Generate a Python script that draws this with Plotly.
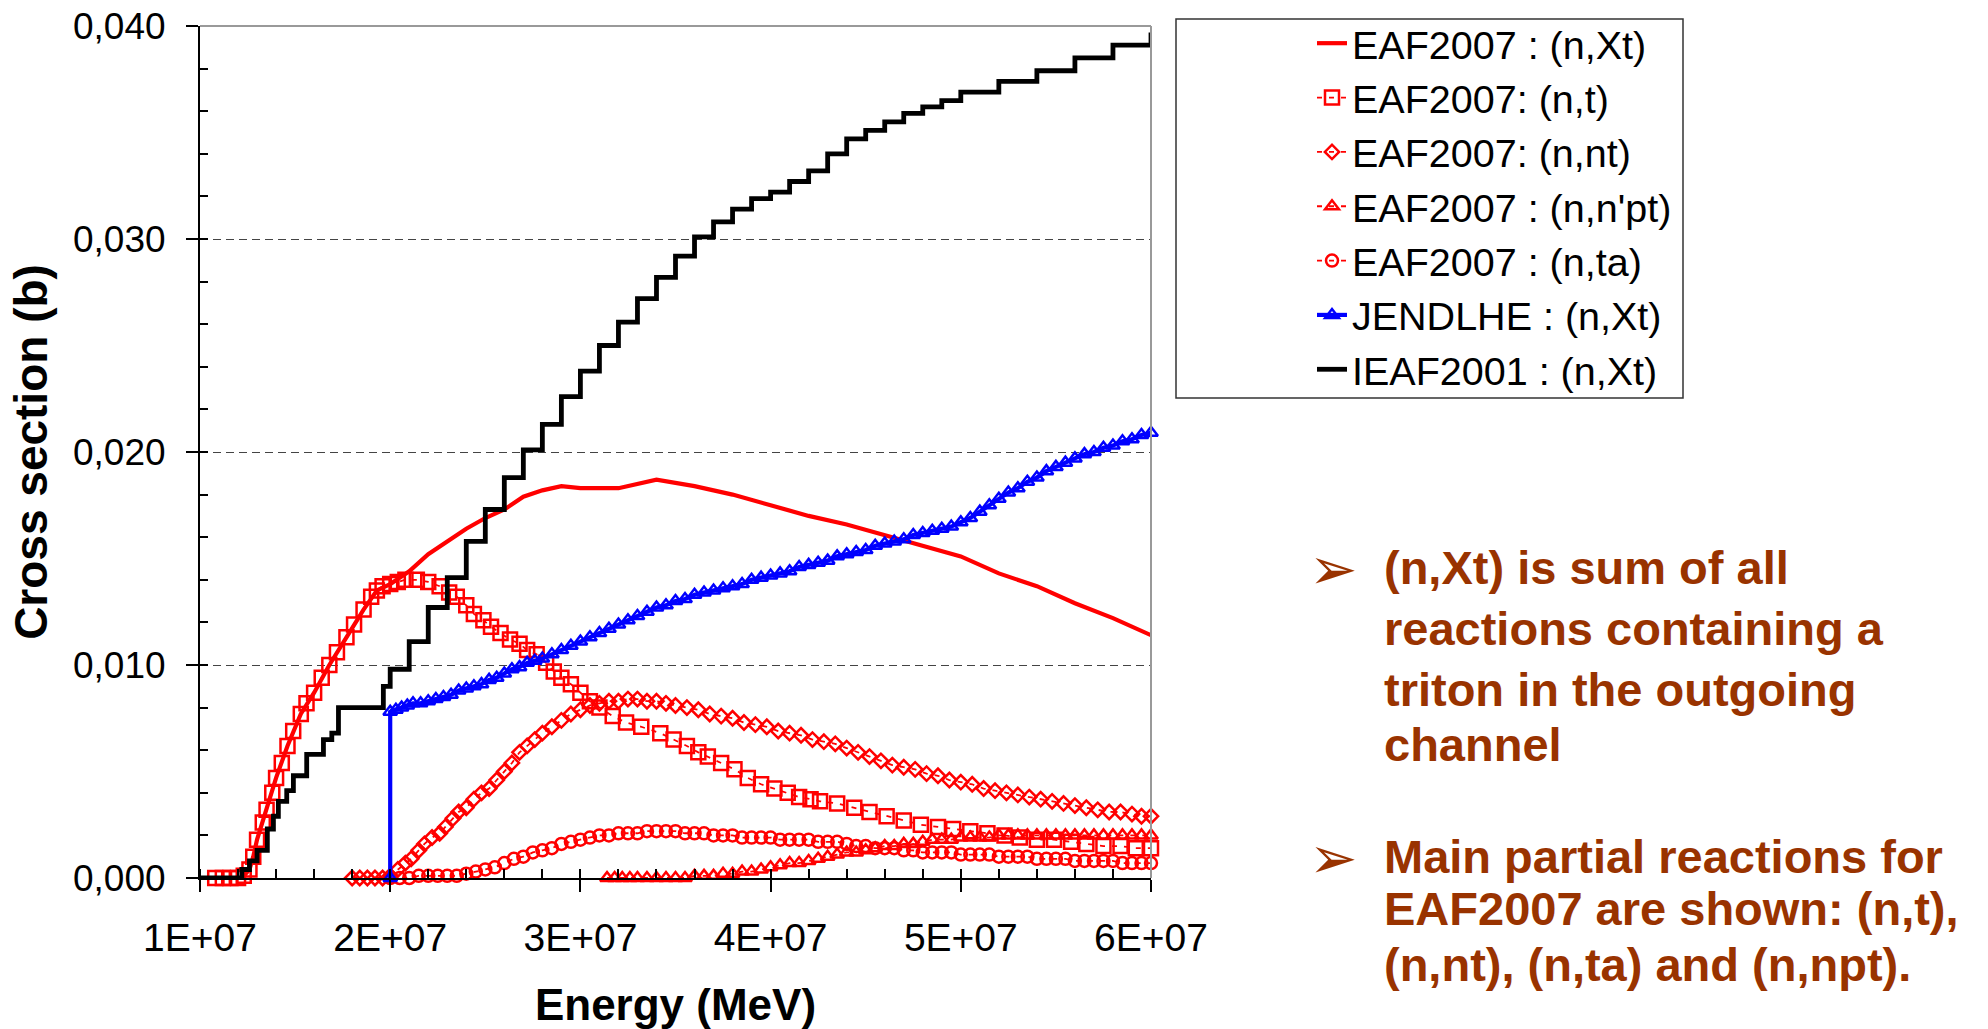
import plotly.graph_objects as go

# ---------------- data (energies in units of 1E+07 eV, cross sections in b) -------------
E_XT = [1.08, 1.22, 1.26, 1.28, 1.30, 1.35, 1.40, 1.46, 1.53, 1.60, 1.68, 1.77, 1.86, 1.93, 2.00,
        2.05, 2.10, 2.20, 2.30, 2.40, 2.50, 2.60, 2.70, 2.80, 2.90, 3.00, 3.20, 3.40, 3.60, 3.80,
        4.00, 4.20, 4.40, 4.60, 4.80, 5.00, 5.20, 5.40, 5.60, 5.80, 6.00]
S_XT = [0, 0, 0.0004, 0.0010, 0.0018, 0.0032, 0.0047, 0.0062, 0.0077, 0.0087, 0.0100, 0.0113, 0.0126, 0.0135, 0.0138,
        0.0141, 0.0144, 0.0152, 0.0158, 0.0164, 0.0169, 0.0173, 0.0179, 0.0182, 0.0184, 0.0183, 0.0183, 0.0187, 0.0184, 0.0180,
        0.0175, 0.0170, 0.0166, 0.0161, 0.0156, 0.0151, 0.0143, 0.0137, 0.0129, 0.0122, 0.0114]

E_T = [1.08, 1.12, 1.16, 1.20, 1.23, 1.26, 1.28, 1.30, 1.33, 1.35, 1.38, 1.40, 1.43, 1.46, 1.49, 1.53,
       1.56, 1.60, 1.64, 1.68, 1.72, 1.77, 1.81, 1.86, 1.90, 1.93, 1.96, 2.00, 2.04, 2.08, 2.14, 2.20,
       2.26, 2.31, 2.35, 2.40, 2.44, 2.49, 2.53, 2.58, 2.63, 2.68, 2.72, 2.77, 2.82, 2.86, 2.90, 2.95,
       3.00, 3.05, 3.10, 3.17, 3.24, 3.32, 3.42, 3.49, 3.56, 3.62, 3.67, 3.74, 3.81, 3.88, 3.95, 4.02,
       4.09, 4.15, 4.21, 4.26, 4.35, 4.44, 4.52, 4.61, 4.70, 4.79, 4.88, 4.96, 5.05, 5.14, 5.23, 5.31,
       5.40, 5.49, 5.58, 5.66, 5.75, 5.84, 5.92, 6.00]
S_T = [0, 0, 0, 0, 0.0001, 0.0004, 0.0010, 0.0018, 0.0026, 0.0032, 0.0040, 0.0047, 0.0054, 0.0062, 0.0069, 0.0077,
       0.0082, 0.0087, 0.0094, 0.0100, 0.0106, 0.0113, 0.0119, 0.0126, 0.0132, 0.0135, 0.0137, 0.0138, 0.0139, 0.0140, 0.0140, 0.0139,
       0.0137, 0.0134, 0.0132, 0.0128, 0.0124, 0.0121, 0.0118, 0.0115, 0.0112, 0.0110, 0.0107, 0.0105, 0.0101, 0.0097, 0.0094, 0.0091,
       0.0087, 0.0083, 0.0080, 0.0076, 0.0073, 0.0071, 0.0068, 0.0065, 0.0062, 0.0059, 0.0057, 0.0054, 0.0051, 0.0047, 0.0044, 0.0042,
       0.0040, 0.0038, 0.0037, 0.0036, 0.0035, 0.0033, 0.0031, 0.0029, 0.0027, 0.0025, 0.0024, 0.0023, 0.0022, 0.0021, 0.0020, 0.0019,
       0.0018, 0.0018, 0.0017, 0.0016, 0.0015, 0.0015, 0.0014, 0.0014]

E_NT = [1.80, 1.84, 1.88, 1.92, 1.96, 2.00, 2.04, 2.08, 2.11, 2.15, 2.18, 2.22, 2.26, 2.29, 2.33, 2.36,
        2.40, 2.44, 2.48, 2.52, 2.56, 2.60, 2.64, 2.68, 2.72, 2.76, 2.80, 2.85, 2.90, 2.95, 3.00, 3.05,
        3.10, 3.15, 3.20, 3.25, 3.30, 3.35, 3.40, 3.45, 3.50, 3.56, 3.62, 3.68, 3.74, 3.80, 3.86, 3.92,
        3.98, 4.04, 4.10, 4.16, 4.22, 4.28, 4.34, 4.40, 4.46, 4.52, 4.58, 4.64, 4.70, 4.76, 4.82, 4.88,
        4.94, 5.00, 5.06, 5.12, 5.18, 5.24, 5.30, 5.36, 5.42, 5.48, 5.54, 5.60, 5.66, 5.72, 5.78, 5.84,
        5.90, 5.95, 6.00]
S_NT = [0, 0, 0, 0, 0, 0.0001, 0.0004, 0.0007, 0.0009, 0.0013, 0.0016, 0.0019, 0.0021, 0.0024, 0.0028, 0.0031,
        0.0033, 0.0037, 0.0040, 0.0042, 0.0046, 0.0050, 0.0054, 0.0059, 0.0062, 0.0065, 0.0068, 0.0071, 0.0074, 0.0077, 0.0079, 0.0081,
        0.0082, 0.0083, 0.0083, 0.0084, 0.0084, 0.0083, 0.0083, 0.0082, 0.0081, 0.0080, 0.0079, 0.0077, 0.0076, 0.0075, 0.0073, 0.0072,
        0.0071, 0.0069, 0.0068, 0.0067, 0.0065, 0.0064, 0.0063, 0.0061, 0.0059, 0.0057, 0.0055, 0.0053, 0.0052, 0.0051, 0.0049, 0.0048,
        0.0046, 0.0045, 0.0044, 0.0042, 0.0041, 0.0040, 0.0039, 0.0038, 0.0037, 0.0036, 0.0035, 0.0034, 0.0033, 0.0032, 0.0031, 0.0031,
        0.0030, 0.0029, 0.0029]

E_NPT = [3.14, 3.18, 3.22, 3.26, 3.30, 3.35, 3.40, 3.45, 3.50, 3.55, 3.60, 3.65, 3.70, 3.75, 3.80, 3.85,
         3.90, 3.95, 4.00, 4.05, 4.10, 4.15, 4.20, 4.25, 4.30, 4.35, 4.40, 4.45, 4.50, 4.55, 4.60, 4.65,
         4.70, 4.75, 4.80, 4.85, 4.90, 4.95, 5.00, 5.05, 5.10, 5.15, 5.20, 5.25, 5.30, 5.35, 5.40, 5.45,
         5.50, 5.55, 5.60, 5.65, 5.70, 5.75, 5.80, 5.85, 5.90, 5.95, 6.00]
S_NPT = [0, 0, 0, 0, 0, 0, 0, 0, 0, 0, 0.0001, 0.0001, 0.0001, 0.0002, 0.0002, 0.0003,
         0.0003, 0.0004, 0.0005, 0.0006, 0.0007, 0.0007, 0.0008, 0.0009, 0.0010, 0.0011, 0.0012, 0.0012, 0.0013, 0.0014, 0.0015, 0.0015,
         0.0016, 0.0016, 0.0017, 0.0018, 0.0018, 0.0018, 0.0019, 0.0019, 0.0019, 0.0019, 0.0020, 0.0020, 0.0020, 0.0020, 0.0020, 0.0020,
         0.0020, 0.0020, 0.0020, 0.0020, 0.0020, 0.0020, 0.0020, 0.0020, 0.0020, 0.0020, 0.0020]

E_TA = [2.00, 2.05, 2.10, 2.15, 2.20, 2.25, 2.30, 2.35, 2.40, 2.45, 2.50, 2.55, 2.60, 2.65, 2.70, 2.75,
        2.80, 2.85, 2.90, 2.95, 3.00, 3.05, 3.10, 3.15, 3.20, 3.25, 3.30, 3.35, 3.40, 3.45, 3.50, 3.55,
        3.60, 3.65, 3.70, 3.75, 3.80, 3.85, 3.90, 3.95, 4.00, 4.05, 4.10, 4.15, 4.20, 4.25, 4.30, 4.35,
        4.40, 4.45, 4.50, 4.55, 4.60, 4.65, 4.70, 4.75, 4.80, 4.85, 4.90, 4.95, 5.00, 5.05, 5.10, 5.15,
        5.20, 5.25, 5.30, 5.35, 5.40, 5.45, 5.50, 5.55, 5.60, 5.65, 5.70, 5.75, 5.80, 5.85, 5.90, 5.95, 6.00]
S_TA = [0, 0, 0, 0.0001, 0.0001, 0.0001, 0.0001, 0.0001, 0.0002, 0.0003, 0.0004, 0.0005, 0.0007, 0.0009, 0.0010, 0.0012,
        0.0013, 0.0014, 0.0016, 0.0017, 0.0018, 0.0019, 0.0020, 0.0020, 0.0021, 0.0021, 0.0021, 0.0022, 0.0022, 0.0022, 0.0022, 0.0021,
        0.0021, 0.0021, 0.0020, 0.0020, 0.0020, 0.0019, 0.0019, 0.0019, 0.0019, 0.0018, 0.0018, 0.0018, 0.0018, 0.0017, 0.0017, 0.0017,
        0.0016, 0.0015, 0.0015, 0.0014, 0.0014, 0.0014, 0.0013, 0.0013, 0.0012, 0.0012, 0.0012, 0.0012, 0.0011, 0.0011, 0.0011, 0.0011,
        0.0010, 0.0010, 0.0010, 0.0010, 0.0009, 0.0009, 0.0009, 0.0009, 0.0008, 0.0008, 0.0008, 0.0008, 0.0008, 0.0007, 0.0007, 0.0007, 0.0007]

E_JENDL = [2.00, 2.00, 2.03, 2.06, 2.09, 2.12, 2.16, 2.20, 2.24, 2.28, 2.32, 2.36, 2.40, 2.44, 2.48, 2.52,
           2.56, 2.60, 2.64, 2.68, 2.72, 2.76, 2.80, 2.85, 2.90, 2.95, 3.00, 3.05, 3.10, 3.15, 3.20, 3.25,
           3.30, 3.35, 3.40, 3.45, 3.50, 3.55, 3.60, 3.65, 3.70, 3.75, 3.80, 3.85, 3.90, 3.95, 4.00, 4.05,
           4.10, 4.15, 4.20, 4.25, 4.30, 4.35, 4.40, 4.45, 4.50, 4.55, 4.60, 4.65, 4.70, 4.75, 4.80, 4.85,
           4.90, 4.95, 5.00, 5.05, 5.10, 5.15, 5.20, 5.25, 5.30, 5.35, 5.40, 5.45, 5.50, 5.55, 5.60, 5.65,
           5.70, 5.75, 5.80, 5.85, 5.90, 5.95, 6.00]
S_JENDL = [0, 0.0078, 0.0079, 0.0080, 0.0081, 0.0082, 0.0082, 0.0083, 0.0084, 0.0085, 0.0086, 0.0088, 0.0089, 0.0090, 0.0091, 0.0093,
           0.0094, 0.0096, 0.0098, 0.0099, 0.0101, 0.0102, 0.0103, 0.0105, 0.0107, 0.0109, 0.0111, 0.0113, 0.0115, 0.0117, 0.0119, 0.0121,
           0.0123, 0.0125, 0.0127, 0.0128, 0.0130, 0.0131, 0.0133, 0.0134, 0.0135, 0.0136, 0.0137, 0.0138, 0.0140, 0.0141, 0.0142, 0.0143,
           0.0144, 0.0146, 0.0147, 0.0148, 0.0149, 0.0151, 0.0152, 0.0153, 0.0154, 0.0156, 0.0157, 0.0158, 0.0159, 0.0161, 0.0162, 0.0163,
           0.0164, 0.0165, 0.0167, 0.0169, 0.0172, 0.0175, 0.0178, 0.0181, 0.0183, 0.0186, 0.0188, 0.0191, 0.0193, 0.0195, 0.0197, 0.0199,
           0.0200, 0.0202, 0.0203, 0.0205, 0.0206, 0.0208, 0.0209]

E_IEAF = [1.00, 1.22, 1.26, 1.30, 1.354, 1.386, 1.412, 1.456, 1.491, 1.561, 1.649, 1.693, 1.728, 1.964, 2.00,
          2.10, 2.20, 2.30, 2.40, 2.50, 2.60, 2.70, 2.80, 2.90, 3.00, 3.10, 3.20, 3.30, 3.40, 3.50,
          3.60, 3.70, 3.80, 3.90, 4.00, 4.10, 4.20, 4.30, 4.40, 4.50, 4.60, 4.70, 4.80, 4.90, 5.00,
          5.20, 5.40, 5.60, 5.80, 6.00]
S_IEAF = [0, 0.0004, 0.0008, 0.0013, 0.0023, 0.0029, 0.0036, 0.0041, 0.0048, 0.0058, 0.0065, 0.0068, 0.0080, 0.0090, 0.0098,
          0.0111, 0.0127, 0.0141, 0.0158, 0.0173, 0.0188, 0.0201, 0.0213, 0.0226, 0.0238, 0.0250, 0.0261, 0.0272, 0.0282, 0.0292,
          0.0301, 0.0308, 0.0314, 0.0319, 0.0322, 0.0327, 0.0332, 0.0340, 0.0347, 0.0351, 0.0355, 0.0359, 0.0362, 0.0365, 0.0369,
          0.0374, 0.0379, 0.0385, 0.0391, 0.0397]

UNIT = 1e7  # energies above are given in units of 1E+07

X_TICKS = [1e7, 2e7, 3e7, 4e7, 5e7, 6e7]
X_TICK_LABELS = ["1E+07", "2E+07", "3E+07", "4E+07", "5E+07", "6E+07"]
Y_TICKS = [0.0, 0.01, 0.02, 0.03, 0.04]

NAMES = ["EAF2007 : (n,Xt)", "EAF2007: (n,t)", "EAF2007: (n,nt)", "EAF2007 : (n,n'pt)",
         "EAF2007 : (n,ta)", "JENDLHE : (n,Xt)", "IEAF2001 : (n,Xt)"]

NOTE_1 = ["(n,Xt) is sum of all", "reactions containing a", "triton in the outgoing", "channel"]
NOTE_2 = ["Main partial reactions for", "EAF2007 are shown: (n,t),", "(n,nt), (n,ta) and (n,npt)."]

# ---------------- styling ----------------
RED = "rgb(255,0,0)"
BLUE = "rgb(0,0,255)"
BLACK = "rgb(0,0,0)"
BROWN = "#993300"
FONT = "Liberation Sans, Arial, sans-serif"

W, H = 1988, 1029
ML, MR, MT, MB = 200, 837, 26, 151
PW, PH = W - ML - MR, H - MT - MB

# pixel layout of the side text
NOTE_1_Y = [567, 628, 689, 744]
NOTE_2_Y = [856, 909, 964]
NOTE_X = 1382
BULLET_X = 1333


def px_x(px):
    return (px - ML) / PW


def px_y(py):
    return (H - MB - py) / PH


def sc(values):
    return [v * UNIT for v in values]


fig = go.Figure()

fig.add_trace(go.Scatter(x=sc(E_XT), y=S_XT, name=NAMES[0], mode="lines",
                         line=dict(color=RED, width=4.2), cliponaxis=False))

dotted = dict(color=RED, width=1.8, dash="5px,7px")
marker_series = [
    (E_T, S_T, NAMES[1], "square-open", 14),
    (E_NT, S_NT, NAMES[2], "diamond-open", 11),
    (E_NPT, S_NPT, NAMES[3], "triangle-up-open", 12),
    (E_TA, S_TA, NAMES[4], "circle-open", 12),
]
for ex, sy, nm, sym, size in marker_series:
    fig.add_trace(go.Scatter(x=sc(ex), y=sy, name=nm, mode="lines+markers", line=dotted,
                             marker=dict(symbol=sym, size=size, color=RED, line=dict(color=RED, width=2.5)),
                             cliponaxis=False))

fig.add_trace(go.Scatter(x=sc(E_JENDL), y=S_JENDL, name=NAMES[5], mode="lines+markers",
                         line=dict(color=BLUE, width=4.2),
                         marker=dict(symbol="triangle-up-open", size=12, color=BLUE, line=dict(color=BLUE, width=2.5)),
                         cliponaxis=False))

fig.add_trace(go.Scatter(x=sc(E_IEAF), y=S_IEAF, name=NAMES[6], mode="lines",
                         line=dict(color=BLACK, width=4.8, shape="hv"), cliponaxis=False))

annotations = []
for yy in [NOTE_1_Y[0], NOTE_2_Y[0]]:
    annotations.append(dict(text="➢", xref="paper", yref="paper", x=px_x(BULLET_X), y=px_y(yy + 2),
                            xanchor="center", yanchor="middle", showarrow=False,
                            font=dict(family="DejaVu Sans", size=58, color=BROWN)))
for lines, ys in [(NOTE_1, NOTE_1_Y), (NOTE_2, NOTE_2_Y)]:
    for txt, yy in zip(lines, ys):
        annotations.append(dict(text=txt, xref="paper", yref="paper", x=px_x(NOTE_X), y=px_y(yy),
                                xanchor="left", yanchor="middle", align="left", showarrow=False,
                                font=dict(family=FONT, size=47, color=BROWN, weight="bold")))

fig.update_layout(
    width=W, height=H,
    margin=dict(l=ML, r=MR, t=MT, b=MB, pad=0, autoexpand=False),
    paper_bgcolor="white", plot_bgcolor="white",
    separators=",.",
    font=dict(family=FONT, color="black"),
    showlegend=True,
    legend=dict(x=px_x(1312), y=px_y(11), xanchor="left", yanchor="top",
                font=dict(family=FONT, size=39.5, color="black"),
                bgcolor="rgba(0,0,0,0)", borderwidth=0, tracegroupgap=0),
    xaxis=dict(range=[1e7, 6e7], tickvals=X_TICKS, ticktext=X_TICK_LABELS,
               ticks="outside", ticklen=12, tickwidth=1.5, tickcolor="black",
               showline=True, linecolor="black", linewidth=2, showgrid=False, zeroline=False,
               tickfont=dict(family=FONT, size=39, color="black"), ticklabelstandoff=12,
               minor=dict(ticks="inside", ticklen=9, tickwidth=1.5, tickcolor="black",
                          tick0=1e7, dtick=2e6, showgrid=False),
               title=dict(text="Energy (MeV)", font=dict(family=FONT, size=44, color="black", weight="bold"),
                          standoff=34)),
    yaxis=dict(range=[0, 0.04], tickvals=Y_TICKS, tickformat=".3f",
               ticks="outside", ticklen=12, tickwidth=1.5, tickcolor="black",
               showline=True, linecolor="black", linewidth=2, zeroline=False,
               showgrid=True, gridcolor="#444", gridwidth=1.2, griddash="8px,5px",
               tickfont=dict(family=FONT, size=37, color="black"), ticklabelstandoff=13,
               minor=dict(ticks="inside", ticklen=8, tickwidth=1.5, tickcolor="black",
                          tick0=0, dtick=0.002, showgrid=False),
               title=dict(text="Cross section (b)", font=dict(family=FONT, size=46, color="black", weight="bold"),
                          standoff=11)),
    shapes=[
        dict(type="line", xref="x domain", yref="y domain", x0=0, x1=1, y0=1, y1=1,
             line=dict(color="#999", width=2), layer="above"),
        dict(type="line", xref="x domain", yref="y domain", x0=1, x1=1, y0=0, y1=1,
             line=dict(color="#999", width=2), layer="above"),
        dict(type="rect", xref="paper", yref="paper", x0=px_x(1176), x1=px_x(1683),
             y0=px_y(398), y1=px_y(19), line=dict(color="#333", width=1.5), layer="above"),
    ],
    annotations=annotations,
)

fig.write_html("out.html")
